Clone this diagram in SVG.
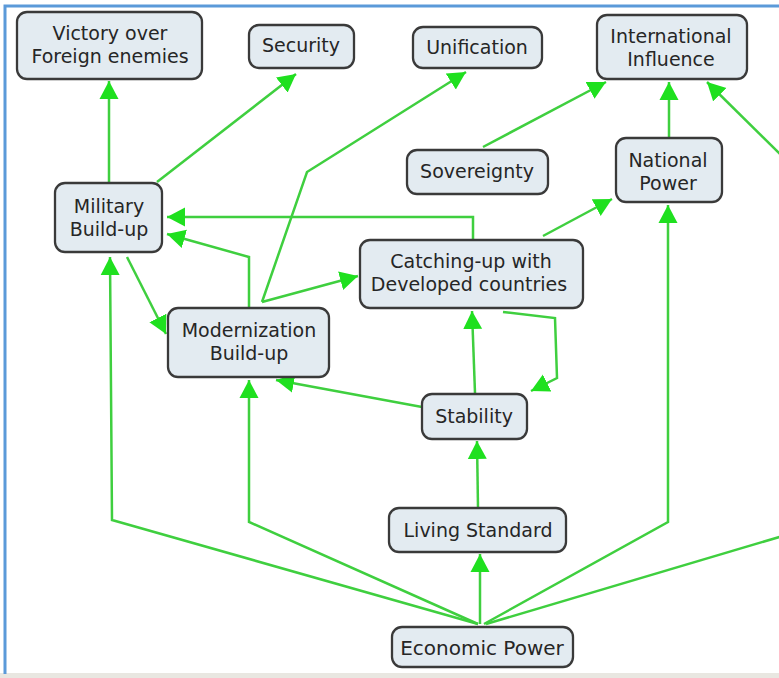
<svg xmlns="http://www.w3.org/2000/svg" width="779" height="678" viewBox="0 0 779 678">
<style>
.node rect{fill:#e3ebf1;stroke:#3a3a3a;stroke-width:2.3}
.node text{font-family:"DejaVu Sans",Verdana,sans-serif;font-size:19px;fill:#262626;text-anchor:middle}
.edges path{fill:none;stroke:#3fcf3f;stroke-width:2.5;stroke-linejoin:miter}
.edges path.a{marker-end:url(#ah)}
</style>
<defs>
<marker id="ah" markerUnits="userSpaceOnUse" markerWidth="20" markerHeight="20" refX="18" refY="10" orient="auto" viewBox="0 0 20 20">
<path d="M0,0.5 L18,10 L0,19.5 z" fill="#1fe01f"/>
</marker>
</defs>
<rect x="0" y="0" width="779" height="678" fill="#ffffff"/>
<rect x="0" y="673" width="779" height="5" fill="#e9e7e1"/>
<path d="M5,674 L5,6 L779,6" fill="none" stroke="#5b9ad9" stroke-width="3"/>
<g class="edges" id="connectors">
<path class="a" d="M109,183 L109,81"/>
<path class="a" d="M157,182 L296,74"/>
<path class="a" d="M262,302 L307,172 L466,72"/>
<path class="a" d="M262,302 L358,276"/>
<path class="a" d="M249,307 L249,257 L167,234"/>
<path class="a" d="M473,240 L473,217 L167,217"/>
<path class="a" d="M543,236 L612,199"/>
<path class="a" d="M483,147 L606,82"/>
<path class="a" d="M669,138 L669,82"/>
<path class="a" d="M786,160 L707,82"/>
<path class="a" d="M503,312 L555,318 L557,378 L531,391"/>
<path class="a" d="M475,393 L472,311"/>
<path class="a" d="M422,407 L276,380"/>
<path class="a" d="M127,257 L166,334"/>
<path class="a" d="M478,624 L112,520 L110,257"/>
<path class="a" d="M478,624 L249,522 L249,380"/>
<path class="a" d="M480,624 L480,554"/>
<path class="a" d="M478,508 L477,441"/>
<path class="a" d="M484,624 L668,522 L668,205"/>
<path d="M486,624 L786,535"/>
</g>
<g class="node" id="victory"><rect x="17" y="12" width="185" height="67" rx="10"/><text x="110" y="40">Victory over</text><text x="110" y="63">Foreign enemies</text></g>
<g class="node" id="security"><rect x="249" y="25" width="105" height="43" rx="10"/><text x="301" y="52">Security</text></g>
<g class="node" id="unification"><rect x="413" y="27" width="129" height="41" rx="10"/><text x="477" y="54">Unification</text></g>
<g class="node" id="influence"><rect x="597" y="15" width="150" height="64" rx="10"/><text x="671" y="43">International</text><text x="671" y="66">Influence</text></g>
<g class="node" id="sovereignty"><rect x="407" y="150" width="141" height="44" rx="10"/><text x="477" y="178">Sovereignty</text></g>
<g class="node" id="national"><rect x="616" y="138" width="106" height="64" rx="10"/><text x="668" y="167">National</text><text x="668" y="190">Power</text></g>
<g class="node" id="military"><rect x="55" y="183" width="107" height="69" rx="10"/><text x="109" y="213">Military</text><text x="109" y="236">Build-up</text></g>
<g class="node" id="catching"><rect x="360" y="240" width="223" height="68" rx="10"/><text x="471" y="268">Catching-up with</text><text x="469" y="291">Developed countries</text></g>
<g class="node" id="modernization"><rect x="168" y="308" width="161" height="69" rx="10"/><text x="249" y="337">Modernization</text><text x="249" y="360">Build-up</text></g>
<g class="node" id="stability"><rect x="422" y="394" width="105" height="45" rx="10"/><text x="474" y="423">Stability</text></g>
<g class="node" id="living"><rect x="389" y="508" width="177" height="44" rx="10"/><text x="478" y="537">Living Standard</text></g>
<g class="node" id="economic"><rect x="392" y="627" width="181" height="40" rx="10"/><text x="482" y="655" style="font-size:20px">Economic Power</text></g>
</svg>
